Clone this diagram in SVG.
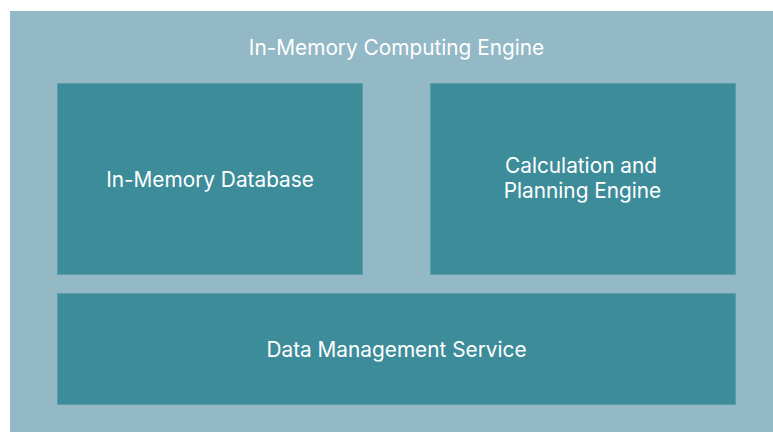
<svg xmlns="http://www.w3.org/2000/svg" width="773" height="432" viewBox="0 0 773 432">
<style>
.box{fill:#3d8c9a;stroke:#5a9dab;stroke-width:1}
.t{font-family:Inter,"Liberation Sans",sans-serif;font-size:20.8px;fill:#ffffff;text-anchor:middle}
</style>
<rect x="0" y="0" width="773" height="432" fill="#ffffff"/>
<g id="engine">
<rect x="10" y="11" width="763" height="421" fill="#93b8c6"/>
<text class="t" x="396.5" y="54.5">In-Memory Computing Engine</text>
</g>
<g id="db">
<rect class="box" x="57.5" y="83.5" width="305" height="191"/>
<text class="t" x="210" y="186.5">In-Memory Database</text>
</g>
<g id="calc">
<rect class="box" x="430.5" y="83.5" width="305" height="191"/>
<text class="t" x="581" y="172.5">Calculation and</text>
<text class="t" x="582.5" y="198">Planning Engine</text>
</g>
<g id="dms">
<rect class="box" x="57.5" y="293.5" width="678" height="111"/>
<text class="t" x="396.5" y="356.5">Data Management Service</text>
</g>
<g id="connectors"></g>
</svg>
